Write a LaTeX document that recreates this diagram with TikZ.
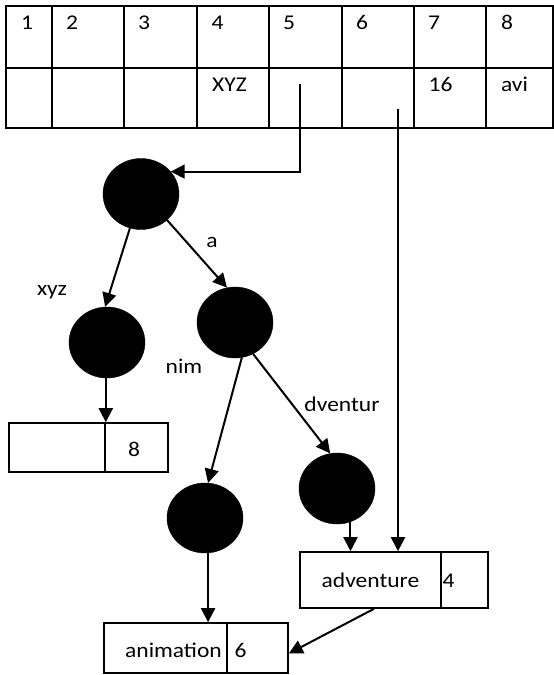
\documentclass[tikz,border=0pt]{standalone}
\usepackage{fontspec}
\setmainfont{Carlito}[FakeStretch=1.12]
\usetikzlibrary{arrows.meta,shapes.geometric}
\tikzset{
  lbl/.style={font=\fontsize{21}{25}\selectfont, inner sep=0pt, anchor=base},
  dot/.style={ellipse, fill=black, draw=black, minimum width=76pt, minimum height=71pt, inner sep=0pt},
  cellbox/.style={rectangle, draw=black, line width=1.6pt, inner sep=0pt},
  grid/.style={line width=1.9pt},
  arr/.style={line width=2pt, -{Triangle[length=14pt,width=14pt]}}
}
\begin{document}
\begin{tikzpicture}[x=1pt,y=-1pt]
\useasboundingbox (0,0) rectangle (554,675);
% table grid
\draw[grid] (6,6) rectangle (553,128);
\draw[grid] (6,68) -- (553,68);
\foreach \xx in {52,124,197,269,342,414,486} { \draw[grid] (\xx,6) -- (\xx,128); }
% header texts
\node[lbl] (h1) at (27,29) {1};
\node[lbl] (h2) at (72,29) {2};
\node[lbl] (h3) at (144,29) {3};
\node[lbl] (h4) at (217.5,29) {4};
\node[lbl] (h5) at (289,29) {5};
\node[lbl] (h6) at (362,29) {6};
\node[lbl] (h7) at (434,29) {7};
\node[lbl] (h8) at (507,29) {8};
\node[lbl] (v4) at (229.5,91) {XYZ};
\node[lbl] (v7) at (440.5,91) {16};
\node[lbl] (v8) at (514.5,91) {avi};
\coordinate (c5) at (300,84);
\coordinate (c6) at (398,109);
% trie nodes
\node[dot] (root) at (141,194) {};
\node[dot] (lc) at (107,342.5) {};
\node[dot] (rc) at (235,322.5) {};
\node[dot, minimum height=70pt] (anim) at (205,518) {};
\node[dot] (adv) at (337,488.5) {};
% leaf boxes
\node[cellbox, minimum width=96pt, minimum height=49pt] (box1a) at (57,447.5) {};
\node[cellbox, minimum width=63pt, minimum height=49pt] (box1b) at (136.5,447.5) {};
\node[cellbox, minimum width=141pt, minimum height=56pt] (advA) at (370.5,580) {};
\node[cellbox, minimum width=47pt, minimum height=56pt] (advB) at (464.5,580) {};
\node[cellbox, minimum width=123pt, minimum height=50pt] (animA) at (165.5,648) {};
\node[cellbox, minimum width=61pt, minimum height=50pt] (animB) at (257.5,648) {};
% box texts
\node[lbl] (t8) at (134,456) {8};
\node[lbl] (tadv) at (370.5,587) {adventure};
\node[lbl] (t4) at (448.5,587) {4};
\node[lbl] (tanim) at (173.5,657) {animation};
\node[lbl] (t6) at (240.5,657) {6};
% edge labels
\node[lbl] (la) at (212,247) {a};
\node[lbl] (lxyz) at (52,295) {xyz};
\node[lbl] (lnim) at (184,373) {nim};
\node[lbl] (ldv) at (342,411) {dventur};
% connectors
\draw[arr] (c5) |- (root.37);
\draw[arr] (root.-108) -- (lc.93);
\draw[arr] (root.-45) -- (rc.103);
\draw[arr] (box1a.north east |- lc.south) -- (box1a.north east);
\draw[arr] (rc.-79) -- (anim.85);
\draw[arr] (rc.-60) -- (adv.101);
\draw[arr] (anim.-85) -- (anim.-85 |- animA.north);
\draw[arr] (adv.-68) -- (adv.-68 |- advA.north);
\draw[arr] (c6) -- (c6 |- advA.north);
\draw[arr] ([xshift=3.5pt]advA.south) -- (animB.-10);
\end{tikzpicture}
\end{document}
